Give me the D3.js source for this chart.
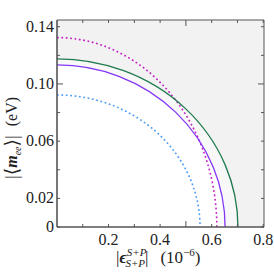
<!DOCTYPE html>
<html>
<head>
<meta charset="utf-8">
<script src="https://cdn.jsdelivr.net/npm/d3@7"></script>
<style>
  body { margin: 0; background: #fff; }
  text { font-family: "Liberation Serif", "DejaVu Serif", serif; fill: #222; }
</style>
</head>
<body>
<div id="chart"></div>
<script>
// ---- data ----
// each curve is a quarter ellipse given by its two intercepts
var curveNames = ["magentaDotted", "green", "purple", "blueDotted"];
var xIntercepts = [0.620, 0.702, 0.652, 0.555];   // |eps| (1e-6)
var yIntercepts = [0.1324, 0.1175, 0.1133, 0.0923]; // |<m_ee>| (eV)
var curveColors = ["#c41fc4", "#1f7a4c", "#8436f5", "#4d9cf5"];
var curveDashed = [true, false, false, true];

var xTicks = [0.1, 0.2, 0.3, 0.4, 0.5, 0.6, 0.7, 0.8];
var xTickLabels = ["0.2", "0.4", "0.6", "0.8"];
var yTicks = [0, 0.02, 0.04, 0.06, 0.08, 0.10, 0.12, 0.14];
var yTickLabels = ["0", "0.02", "0.06", "0.10", "0.14"];

var w = 274, h = 273;
var pLeft = 57, pRight = 264, pTop = 20, pBottom = 227;

var svg = d3.select("#chart").append("svg")
  .attr("width", w).attr("height", h);

var x = d3.scaleLinear().domain([0, 0.803]).range([pLeft, pRight]);
var y = d3.scaleLinear().domain([0, 0.1447]).range([pBottom, pTop]);

// quarter ellipse path through the scales, optionally closed to the origin
function quarter(i, closed) {
  var rx = x(xIntercepts[i]) - x(0), ry = y(0) - y(yIntercepts[i]);
  var p = "M" + x(0) + "," + y(yIntercepts[i]) +
    " A" + rx + "," + ry + " 0 0 1 " + x(xIntercepts[i]) + "," + y(0);
  if (closed) p += " L" + x(0) + "," + y(0) + " Z";
  return p;
}

// background shading: grey outside green, lighter outside purple
svg.append("rect")
  .attr("x", pLeft).attr("y", pTop)
  .attr("width", pRight - pLeft).attr("height", pBottom - pTop)
  .attr("fill", "#f2f2f2");
svg.append("path").attr("d", quarter(1, true)).attr("fill", "#f8f8f8");
svg.append("path").attr("d", quarter(2, true)).attr("fill", "#ffffff");

// curves
svg.selectAll("path.curve")
  .data(curveNames)
  .enter()
  .append("path")
  .classed("curve", true)
  .attr("d", function(d, i) { return quarter(i, false); })
  .attr("fill", "none")
  .attr("stroke", function(d, i) { return curveColors[i]; })
  .attr("stroke-width", function(d, i) { return curveDashed[i] ? 1.6 : 1.3; })
  .attr("stroke-dasharray", function(d, i) { return curveDashed[i] ? "1.8,2.6" : null; });

// frame
var frame = "#555";
svg.append("line").attr("x1", pLeft).attr("x2", pRight).attr("y1", pTop).attr("y2", pTop)
  .attr("stroke", frame).attr("stroke-width", 1);
svg.append("line").attr("x1", pRight).attr("x2", pRight).attr("y1", pTop).attr("y2", pBottom)
  .attr("stroke", frame).attr("stroke-width", 1);
svg.append("line").attr("x1", pLeft).attr("x2", pRight).attr("y1", pBottom).attr("y2", pBottom)
  .attr("stroke", frame).attr("stroke-width", 1.6);
svg.append("line").attr("x1", pLeft).attr("x2", pLeft).attr("y1", pTop).attr("y2", pBottom)
  .attr("stroke", frame).attr("stroke-width", 1.6);

// ticks on all four sides, pointing inward
function tickLen(v, major) { return Math.abs(v - major) < 1e-9 ? 6 : 3; }
xTicks.forEach(function(v) {
  var L = tickLen(v, 0.5);
  svg.append("line").attr("x1", x(v)).attr("x2", x(v)).attr("y1", pBottom).attr("y2", pBottom - L)
    .attr("stroke", frame).attr("stroke-width", 1);
  svg.append("line").attr("x1", x(v)).attr("x2", x(v)).attr("y1", pTop).attr("y2", pTop + L)
    .attr("stroke", frame).attr("stroke-width", 1);
});
yTicks.forEach(function(v) {
  var L = tickLen(v, 0.10);
  svg.append("line").attr("x1", pLeft).attr("x2", pLeft + L).attr("y1", y(v)).attr("y2", y(v))
    .attr("stroke", frame).attr("stroke-width", 1);
  svg.append("line").attr("x1", pRight).attr("x2", pRight - L).attr("y1", y(v)).attr("y2", y(v))
    .attr("stroke", frame).attr("stroke-width", 1);
});

// tick labels
svg.selectAll("text.xt")
  .data(xTickLabels)
  .enter()
  .append("text")
  .classed("xt", true)
  .attr("x", function(d) { return x(+d); })
  .attr("y", pBottom + 18)
  .attr("text-anchor", "middle")
  .attr("font-size", 16)
  .text(function(d) { return d; });

svg.selectAll("text.yt")
  .data(yTickLabels)
  .enter()
  .append("text")
  .classed("yt", true)
  .attr("x", pLeft - 3)
  .attr("y", function(d) { return y(+d) + 5; })
  .attr("text-anchor", "end")
  .attr("font-size", 16)
  .text(function(d) { return d; });

// x axis label: |eps^{S+P}_{S+P}| (10^-6)
var xl = svg.append("text").attr("x", 116).attr("y", 263).attr("font-size", 17);
xl.append("tspan").text("|");
xl.append("tspan").attr("font-style", "italic").attr("font-weight", "bold").text("ϵ");
xl.append("tspan").attr("font-size", 11).attr("font-style", "italic").attr("dy", -7).text("S+P");
xl.append("tspan").attr("font-size", 11).attr("font-style", "italic").attr("dx", -21).attr("dy", 11).text("S+P");
xl.append("tspan").attr("dy", -4).text("|");
xl.append("tspan").attr("dx", 12).text("(10");
xl.append("tspan").attr("font-size", 11).attr("dy", -7).text("−6");
xl.append("tspan").attr("dy", 7).text(")");

// y axis label: |<m_ee>| (eV)
var yl = svg.append("text")
  .attr("transform", "translate(17,179) rotate(-90)")
  .attr("font-size", 16);
yl.append("tspan").attr("font-size", 19).attr("dy", 1).text("|⟨");
yl.append("tspan").attr("font-style", "italic").attr("font-weight", "bold").attr("dy", -1).text("m");
yl.append("tspan").attr("font-size", 10).attr("font-style", "italic").attr("dy", 4).text("ee");
yl.append("tspan").attr("font-size", 19).attr("dy", -3).text("⟩|");
yl.append("tspan").attr("dx", 9).attr("dy", -1).text("(eV)");
</script>
</body>
</html>
